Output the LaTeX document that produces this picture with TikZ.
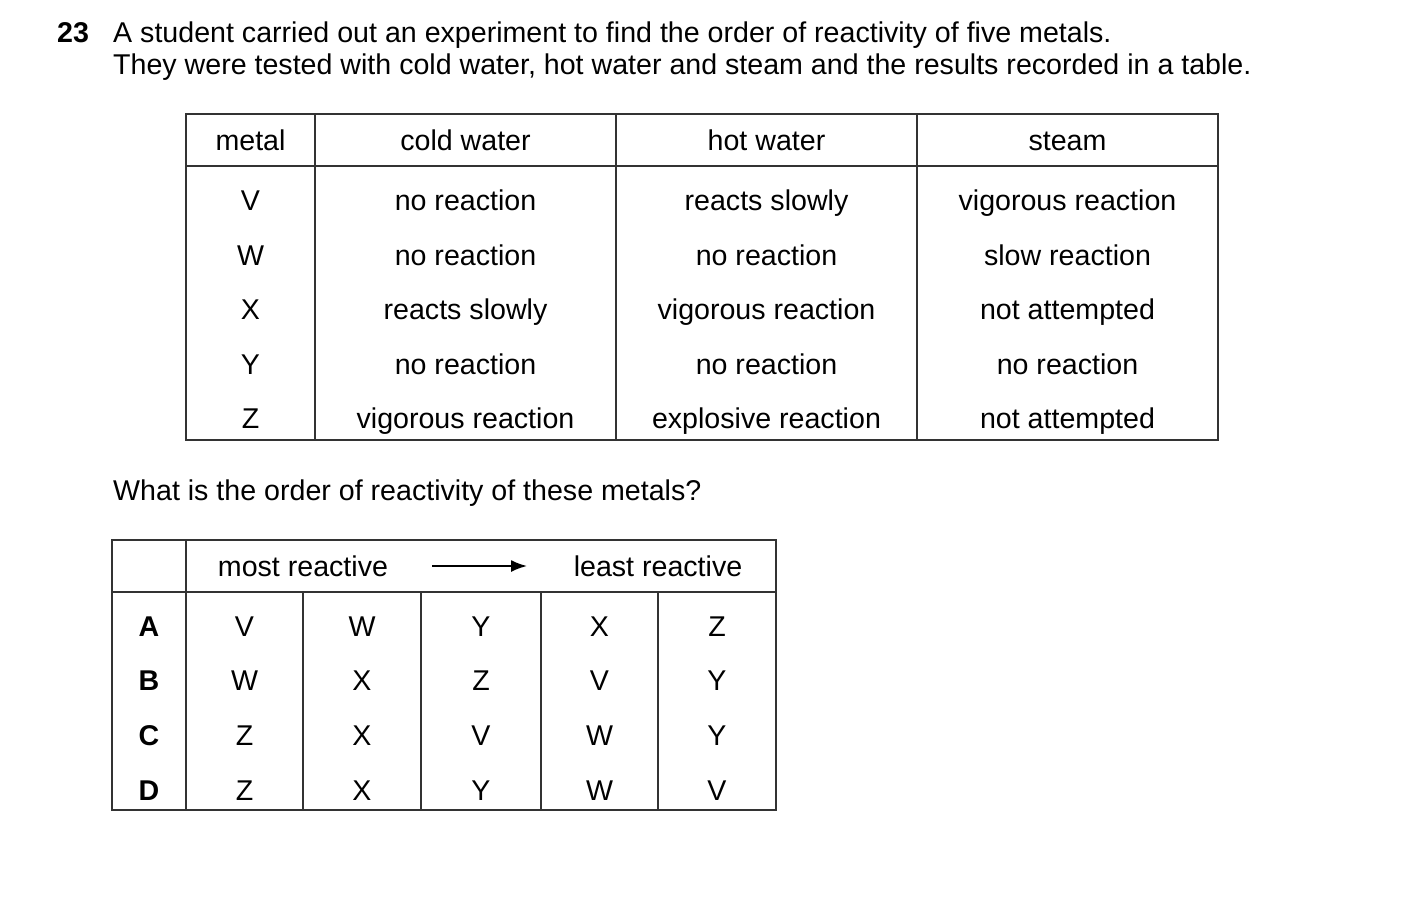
\documentclass[tikz,border=0pt]{standalone}
\usepackage{fontspec}
\usetikzlibrary{arrows.meta}
\setmainfont{Liberation Sans}
\begin{document}
\begin{tikzpicture}[x=1pt,y=-1pt,
  every node/.style={font=\fontsize{28.6}{32}\selectfont,inner sep=0pt},
  ln/.style={line width=1.3pt,gray!40!black},
  t/.style={anchor=base}]
\useasboundingbox (0,0) rectangle (1403,905);
\node[anchor=base west,font=\fontsize{28.6}{32}\selectfont\bfseries] (n) at (57,42) {23};
\node[anchor=base west] (l1) at (113,42) {A student carried out an experiment to find the order of reactivity of five metals.};
\node[anchor=base west] (l2) at (113,74) {They were tested with cold water, hot water and steam and the results recorded in a table.};
% table 1
\draw[ln] (186,114) rectangle (1218,440);
\draw[ln] (186,166) -- (1218,166);
\foreach \x in {315,616,917} \draw[ln] (\x,114) -- (\x,440);
\foreach \x/\a/\b/\c/\d/\e/\f in {
 250.5/metal/V/W/X/Y/Z,
 465.5/cold water/no reaction/no reaction/reacts slowly/no reaction/vigorous reaction,
 766.5/hot water/reacts slowly/no reaction/vigorous reaction/no reaction/explosive reaction,
 1067.5/steam/vigorous reaction/slow reaction/not attempted/no reaction/not attempted}{
 \node[t] at (\x,150) {\a};
 \node[t] at (\x,210) {\b};
 \node[t] at (\x,265) {\c};
 \node[t] at (\x,319) {\d};
 \node[t] at (\x,374) {\e};
 \node[t] at (\x,428) {\f};}
\node[anchor=base west] (q) at (113,500) {What is the order of reactivity of these metals?};
% table 2
\draw[ln] (112,540) rectangle (776,810);
\draw[ln] (112,592) -- (776,592);
\draw[ln] (186,540) -- (186,810);
\foreach \x in {303,421,541,658} \draw[ln] (\x,592) -- (\x,810);
\node[t] (mr) at (303,576) {most reactive};
\node[t] (lr) at (658,576) {least reactive};
\coordinate (a1) at (432,566); \coordinate (a2) at (527,566);
\draw[line width=1.8pt,-{Latex[length=16pt,width=12pt]}] (a1) -- (a2);
\foreach \y/\L/\a/\b/\c/\d/\e in {636/A/V/W/Y/X/Z, 690/B/W/X/Z/V/Y, 745/C/Z/X/V/W/Y, 800/D/Z/X/Y/W/V}{
 \node[t,font=\fontsize{28.6}{32}\selectfont\bfseries] at (149,\y) {\L};
 \node[t] at (244.5,\y) {\a};
 \node[t] at (362,\y) {\b};
 \node[t] at (481,\y) {\c};
 \node[t] at (599.5,\y) {\d};
 \node[t] at (717,\y) {\e};}
\end{tikzpicture}
\end{document}
